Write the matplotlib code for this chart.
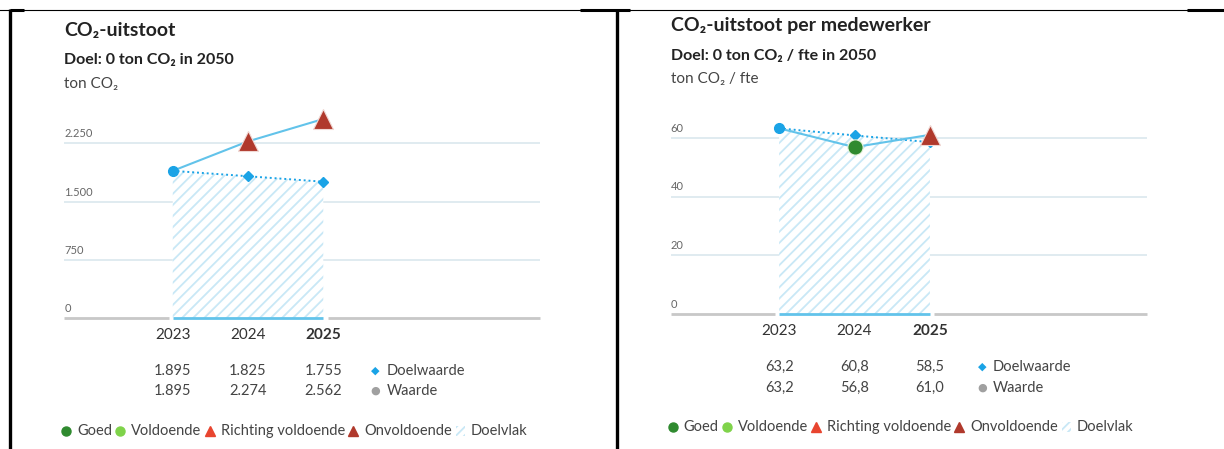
import matplotlib
matplotlib.use("Agg")
import matplotlib.pyplot as plt
from matplotlib.transforms import IdentityTransform
from matplotlib.patches import Rectangle

plt.rcParams["font.family"] = ["Lato", "Noto Sans", "DejaVu Sans"]
plt.rcParams["hatch.linewidth"] = 1.3

years = [2023, 2024, 2025]

# CO2-uitstoot (ton CO2)
doel_totaal = [1895, 1825, 1755]
waarde_totaal = [1895, 2274, 2562]
status_totaal = ["start", "onvoldoende", "onvoldoende"]
labels_doel_totaal = ["1.895", "1.825", "1.755"]
labels_waarde_totaal = ["1.895", "2.274", "2.562"]
ticks_totaal = [0, 750, 1500, 2250]
ticklabels_totaal = ["0", "750", "1.500", "2.250"]

# CO2-uitstoot per medewerker (ton CO2 / fte)
doel_fte = [63.2, 60.8, 58.5]
waarde_fte = [63.2, 56.8, 61.0]
status_fte = ["start", "goed", "onvoldoende"]
labels_doel_fte = ["63,2", "60,8", "58,5"]
labels_waarde_fte = ["63,2", "56,8", "61,0"]
ticks_fte = [0, 20, 40, 60]
ticklabels_fte = ["0", "20", "40", "60"]

BLUE = "#1aa3e6"
LINE = "#62c3ea"
HATCH = "#c9e8f6"
GRID = "#dde9ef"
COLORS = {
    "goed": "#2f8a2f",
    "voldoende": "#7fd34a",
    "richting": "#e8452f",
    "onvoldoende": "#b0392c",
}
XMIN, XMAX = 2021.56, 2027.88

fig = plt.figure(figsize=(12.24, 4.49), dpi=100)


def draw_panel(rect, doel, waarde, status, ldoel, lwaarde, ticks, ticklabels,
               ymax, title, subtitle, unit, text_y, table_y):
    ax = fig.add_axes(rect)
    ax.set_xlim(XMIN, XMAX)
    ax.set_ylim(0, ymax)
    ax.axis("off")

    for v, lab in zip(ticks, ticklabels):
        if v > 0:
            ax.axhline(v, color=GRID, lw=1.3, zorder=0)
        ax.annotate(lab, xy=(0, v), xycoords=("axes fraction", "data"),
                    xytext=(0, 4), textcoords="offset pixels",
                    fontsize=8, color="#666666", va="bottom", ha="left")

    # baseline with gap around doelvlak
    ax.plot([XMIN, years[0] - 0.05], [0, 0], color="#c8c8c8", lw=2,
            clip_on=False, solid_capstyle="butt")
    ax.plot([years[-1] + 0.06, XMAX], [0, 0], color="#c8c8c8", lw=2,
            clip_on=False, solid_capstyle="butt")

    ax.fill_between(years, 0, doel, facecolor="white", edgecolor=HATCH,
                    hatch="///", linewidth=0, zorder=1)
    ax.plot([years[0], years[-1]], [0, 0], color=LINE, lw=2, clip_on=False,
            solid_capstyle="butt", zorder=2)

    ax.plot(years, doel, color=BLUE, lw=1.4, ls=(0, (1, 1.5)), zorder=3)
    ax.plot(years[1:], doel[1:], ls="none", marker="D", ms=5, color=BLUE,
            zorder=4)
    ax.plot(years, waarde, color=LINE, lw=1.5, zorder=3, clip_on=False)

    for x, y, s in zip(years, waarde, status):
        if s == "start":
            ax.plot(x, y, marker="o", ms=7, color=BLUE, zorder=5, clip_on=False)
        elif s in ("goed", "voldoende"):
            ax.plot(x, y, marker="o", ms=11, color=COLORS[s], mec="#e8f5e0",
                    mew=0.8, zorder=5, clip_on=False)
        else:
            ax.plot(x, y, marker="^", ms=14, color=COLORS[s], mec="#f0d8d4",
                    mew=0.8, zorder=5, clip_on=False)

    # year and value table below
    yy, yd, yw = table_y
    for i, x in enumerate(years):
        weight = "bold" if i == len(years) - 1 else "normal"
        ax.annotate(str(x), xy=(x, 0), xycoords=("data", "axes fraction"),
                    xytext=(0, -yy), textcoords="offset pixels", ha="center",
                    va="center", fontsize=11, color="#333333", weight=weight)
        ax.annotate(ldoel[i], xy=(x, 0), xycoords=("data", "axes fraction"),
                    xytext=(0, -yd), textcoords="offset pixels", ha="center",
                    va="center", fontsize=10.5, color="#444444")
        ax.annotate(lwaarde[i], xy=(x, 0), xycoords=("data", "axes fraction"),
                    xytext=(0, -yw), textcoords="offset pixels", ha="center",
                    va="center", fontsize=10.5, color="#444444")

    ax.annotate("\u25C6", xy=(years[-1], 0), xycoords=("data", "axes fraction"),
                xytext=(52, -yd), textcoords="offset pixels", ha="center",
                va="center", fontsize=8, color=BLUE,
                family=["DejaVu Sans"])
    ax.annotate("Doelwaarde", xy=(years[-1], 0),
                xycoords=("data", "axes fraction"), xytext=(63, -yd),
                textcoords="offset pixels", ha="left", va="center",
                fontsize=10.5, color="#444444")
    ax.annotate("\u25CF", xy=(years[-1], 0), xycoords=("data", "axes fraction"),
                xytext=(52, -yw), textcoords="offset pixels", ha="center",
                va="center", fontsize=8, color="#a0a0a0",
                family=["DejaVu Sans"])
    ax.annotate("Waarde", xy=(years[-1], 0),
                xycoords=("data", "axes fraction"), xytext=(63, -yw),
                textcoords="offset pixels", ha="left", va="center",
                fontsize=10.5, color="#444444")

    # titles
    x0 = ax.bbox.x0
    y0 = fig.bbox.height
    fig.text(x0 / fig.bbox.width, (y0 - text_y[0]) / y0, title,
             fontsize=14, weight="bold", color="#222222", va="center")
    fig.text(x0 / fig.bbox.width, (y0 - text_y[1]) / y0, subtitle,
             fontsize=11.5, weight="bold", color="#222222", va="center")
    fig.text(x0 / fig.bbox.width, (y0 - text_y[2]) / y0, unit,
             fontsize=11, color="#444444", va="center")
    return ax


def legend_row(ax, y_off):
    renderer = fig.canvas.get_renderer()
    x = ax.bbox.x0 + 2
    y = ax.bbox.y0 - y_off
    items = [("o", COLORS["goed"], "Goed", 6.5),
             ("o", COLORS["voldoende"], "Voldoende", 6.5),
             ("^", COLORS["richting"], "Richting voldoende", 7),
             ("^", COLORS["onvoldoende"], "Onvoldoende", 7),
             ("hatch", HATCH, "Doelvlak", 0)]
    for marker, color, label, ms in items:
        if marker == "hatch":
            fig.add_artist(Rectangle((x - 4, y - 5), 9, 10,
                                     transform=IdentityTransform(),
                                     facecolor="white", edgecolor=color,
                                     hatch="////", linewidth=0))
        else:
            ax.plot([x], [y], marker=marker, ms=ms, color=color,
                    transform=IdentityTransform(), clip_on=False)
        t = fig.text(0, 0, label, fontsize=10.5, color="#444444", va="center",
                     transform=IdentityTransform())
        t.set_position((x + 11, y))
        w = t.get_window_extent(renderer).width
        x = x + 11 + w + 8


ax1 = draw_panel([64.4 / 1224, 131 / 449, 475.6 / 1224, 233 / 449],
                 doel_totaal, waarde_totaal, status_totaal,
                 labels_doel_totaal, labels_waarde_totaal,
                 ticks_totaal, ticklabels_totaal, 3000,
                 "CO\u2082-uitstoot", "Doel: 0 ton CO\u2082 in 2050",
                 "ton CO\u2082", (30, 60, 84), (17, 53, 73))
ax2 = draw_panel([670.6 / 1224, 135 / 449, 476.4 / 1224, 235 / 449],
                 doel_fte, waarde_fte, status_fte,
                 labels_doel_fte, labels_waarde_fte,
                 ticks_fte, ticklabels_fte, 80,
                 "CO\u2082-uitstoot per medewerker",
                 "Doel: 0 ton CO\u2082 / fte in 2050",
                 "ton CO\u2082 / fte", (25, 56, 79), (17, 53, 74))

fig.canvas.draw()
legend_row(ax1, 113)
legend_row(ax2, 113)

# table borders of the screenshot
border = fig.add_axes([0, 0, 1, 1], zorder=-1)
border.set_xlim(0, 1224)
border.set_ylim(449, 0)
border.axis("off")
border.plot([0, 1224], [10, 10], color="black", lw=0.8)
for xa, xb in [(10, 24), (580, 630), (1187, 1224)]:
    border.plot([xa, xb], [10, 10], color="black", lw=2.2,
                solid_capstyle="butt")
for xv in [10, 617]:
    border.plot([xv, xv], [9, 449], color="black", lw=2.4,
                solid_capstyle="butt")

fig.savefig("out.png", dpi=100)
